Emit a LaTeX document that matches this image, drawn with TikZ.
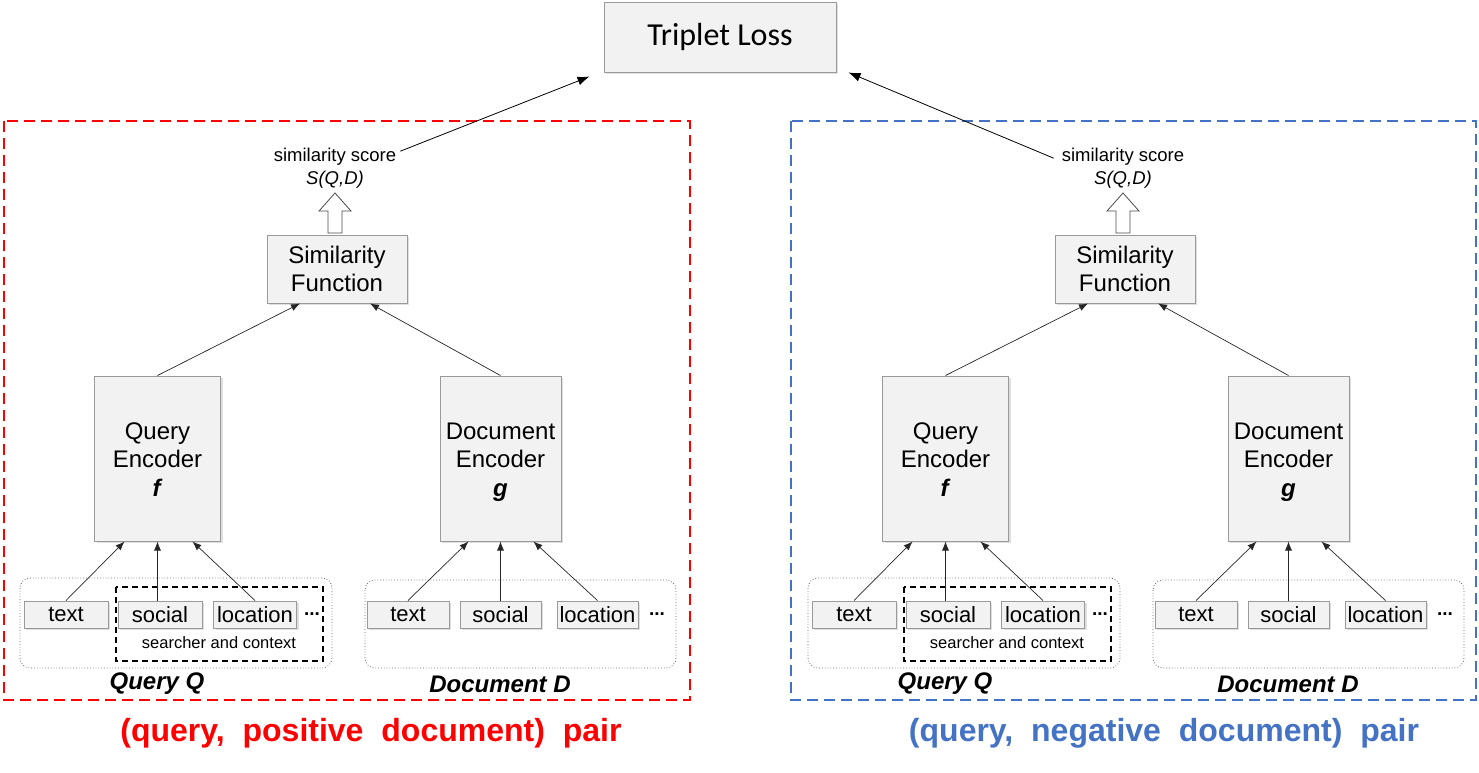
\documentclass[tikz,border=0pt]{standalone}
\usepackage{fontspec}
\setmainfont{Liberation Sans}
\newfontfamily\tripfont{Carlito}
\usetikzlibrary{arrows.meta,shadows}
\definecolor{boxfill}{HTML}{F2F2F2}
\definecolor{boxline}{HTML}{9A9A9A}
\definecolor{myblue}{HTML}{4472C4}
\definecolor{myred}{HTML}{FF0000}
\tikzset{
  gbox/.style={draw=boxline, fill=boxfill, line width=1pt, inner sep=0pt,
    drop shadow={opacity=0.25, shadow xshift=2pt, shadow yshift=-2pt}},
  cont/.style={draw=black!60, dotted, line width=0.8pt, rounded corners=10pt},
  sdash/.style={draw=black, dashed, line width=1.6pt, dash pattern=on 6pt off 4pt},
  con/.style={-{Latex[length=9pt,width=7pt]}, line width=0.7pt, draw=black!85},
  bigcon/.style={-{Latex[length=12pt,width=9pt]}, line width=0.8pt},
  hollow/.style={draw=black!70, fill=white, line width=0.8pt},
  frame/.style={dashed, line width=2.4pt, dash pattern=on 11pt off 6pt},
  lbl/.style={inner sep=0pt, font=\fontsize{22}{24}\selectfont},
  biglbl/.style={inner sep=0pt, font=\fontsize{24}{28}\selectfont, align=center},
}
\newcommand{\drawpanel}[2]{%
\begin{scope}[xshift=#2pt]
  \node[inner sep=0pt, font=\fontsize{18.5}{20}\selectfont] (#1score) at (335,157) {similarity score};
  \node[inner sep=0pt, font=\fontsize{18.5}{20}\selectfont\itshape] (#1sqd) at (335,180) {S(Q,D)};
  \node[gbox, minimum width=140pt, minimum height=68pt, biglbl] (#1sf) at (337,269) {Similarity\\Function};
  \draw[hollow] (328,233) -- (328,211) -- (319,211) -- (335,193) -- (351,211) -- (342,211) -- (342,233) -- cycle;
  \node[gbox, minimum width=126pt, minimum height=165pt, biglbl] (#1qe) at (157.5,458.5) {\rule{0pt}{28pt}Query\\Encoder\\[1pt]\textbf{\textit{f}}\strut};
  \node[gbox, minimum width=121pt, minimum height=165pt, biglbl] (#1de) at (500.5,458.5) {\rule{0pt}{28pt}Document\\Encoder\\[1pt]\textbf{\textit{g}}\strut};
  % query container
  \draw[cont] (20,578) rectangle (332,668);
  \draw[sdash] (116,587) rectangle (323,661);
  \node[gbox, minimum width=84pt, minimum height=27pt, lbl] (#1qt) at (66,614.5) {text};
  \node[gbox, minimum width=84pt, minimum height=27pt, lbl] (#1qs) at (160,614.5) {social};
  \node[gbox, minimum width=83pt, minimum height=27pt, lbl] (#1ql) at (255,614.5) {location};
  \node[inner sep=0pt, font=\fontsize{19}{20}\selectfont\bfseries] (#1qdots) at (312,614) {...};
  \node[inner sep=0pt, font=\fontsize{16.5}{18}\selectfont] (#1sc) at (219,643) {searcher and context};
  \node[inner sep=0pt, font=\fontsize{24}{26}\selectfont\bfseries\itshape] (#1qq) at (157,684) {Query Q};
  % document container
  \draw[cont] (365,580) rectangle (676,668);
  \node[gbox, minimum width=82pt, minimum height=27pt, lbl] (#1dt) at (408,614.5) {text};
  \node[gbox, minimum width=81pt, minimum height=27pt, lbl] (#1ds) at (500.5,614.5) {social};
  \node[gbox, minimum width=81pt, minimum height=27pt, lbl] (#1dl) at (597.5,614.5) {location};
  \node[inner sep=0pt, font=\fontsize{19}{20}\selectfont\bfseries] (#1ddots) at (657,614) {...};
  \node[inner sep=0pt, font=\fontsize{24}{26}\selectfont\bfseries\itshape] (#1dd) at (500,684) {Document D};
  % connectors
  \draw[con] (#1qt.north) -- ([xshift=-33pt]#1qe.south);
  \draw[con] (#1qs.north -| #1qe.south) -- (#1qe.south);
  \draw[con] (#1ql.north) -- ([xshift=35pt]#1qe.south);
  \draw[con] (#1dt.north) -- ([xshift=-32pt]#1de.south);
  \draw[con] (#1ds.north) -- (#1de.south);
  \draw[con] (#1dl.north) -- ([xshift=33pt]#1de.south);
  \draw[con] (#1qe.north) -- ([xshift=-37pt]#1sf.south);
  \draw[con] (#1de.north) -- ([xshift=33pt]#1sf.south);
\end{scope}}
\begin{document}
\begin{tikzpicture}[x=1pt,y=-1pt]
  \useasboundingbox (0,0) rectangle (1479,772);
  \node[gbox, minimum width=232pt, minimum height=70pt, font=\tripfont\fontsize{32}{34}\selectfont] (tl) at (720,37) {Triplet Loss};
  \drawpanel{l}{0}
  \drawpanel{r}{788}
  \draw[frame, myred] (4,121) rectangle (690,700);
  \draw[frame, myblue] (791,121) rectangle (1476,700);
  \node[inner sep=0pt, font=\fontsize{32}{36}\selectfont\bfseries, text=myred] (lpair) at (371,733) {(query,\hspace{9pt} positive\hspace{9pt} document)\hspace{9pt} pair};
  \node[inner sep=0pt, font=\fontsize{32}{36}\selectfont\bfseries, text=myblue] (rpair) at (1164,733) {(query,\hspace{9pt} negative\hspace{9pt} document)\hspace{9pt} pair};
  \draw[bigcon] ([xshift=4pt,yshift=-3pt]lscore.north east) -- ([xshift=-14pt,yshift=-4pt]tl.south west);
  \draw[bigcon] ([xshift=-8pt,yshift=-10pt]rscore.north west) -- ([xshift=12pt]tl.south east);
\end{tikzpicture}
\end{document}
